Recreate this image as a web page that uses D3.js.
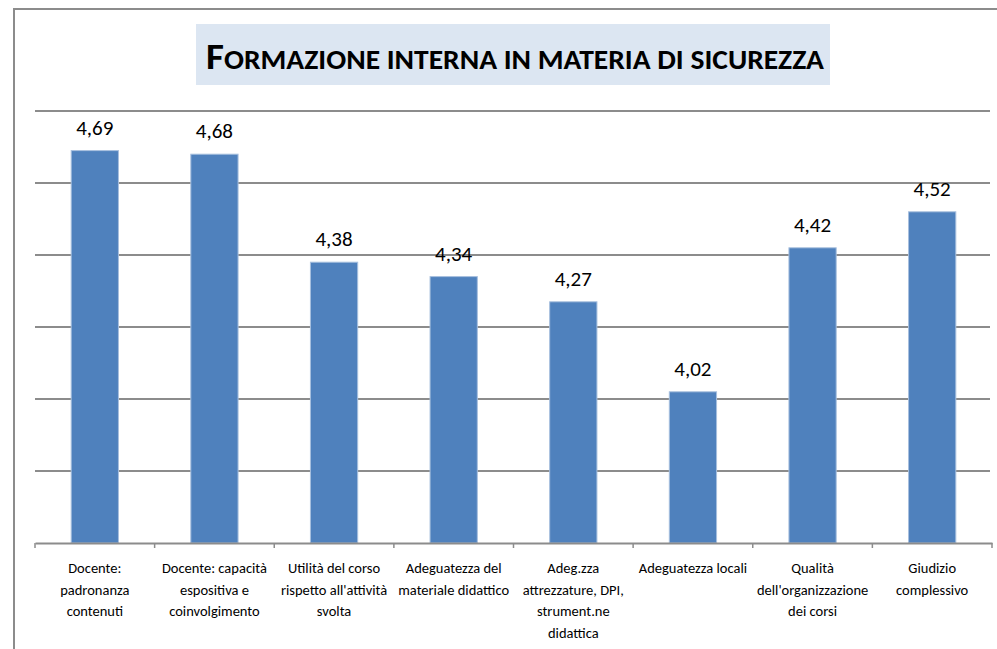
<!DOCTYPE html>
<html>
<head>
<meta charset="utf-8">
<script src="https://cdn.jsdelivr.net/npm/d3@7"></script>
<style>
	body { margin: 0; background: #fff; }
	svg { display: block; }
</style>
</head>
<body>
<div id="graph"></div>
<script>
const titleWords = ["Formazione", "interna", "in", "materia", "di", "sicurezza"];
const categories = [
	["Docente:", "padronanza", "contenuti"],
	["Docente: capacità", "espositiva e", "coinvolgimento"],
	["Utilità del corso", "rispetto all'attività", "svolta"],
	["Adeguatezza del", "materiale didattico"],
	["Adeg.zza", "attrezzature, DPI,", "strument.ne", "didattica"],
	["Adeguatezza locali"],
	["Qualità", "dell'organizzazione", "dei corsi"],
	["Giudizio", "complessivo"],
];
const values = [4.69, 4.68, 4.38, 4.34, 4.27, 4.02, 4.42, 4.52];
const yTicks = [3.6, 3.8, 4.0, 4.2, 4.4, 4.6, 4.8];

const width = 997;
const height = 649;
const marginLeft = 35;
const marginRight = 5;
const plotTop = 111;
const plotBottom = 543;
const font = "Calibri, Carlito, 'Liberation Sans Narrow', 'Open Sans', sans-serif";

const svg = d3
	.select("#graph")
	.append("svg")
	.attr("width", width)
	.attr("height", height)
	.attr("viewBox", [0, 0, width, height]);

// outer frame (top and left only visible)
svg
	.append("path")
	.attr("d", `M14,${height} V9 H${width}`)
	.attr("fill", "none")
	.attr("stroke", "#8c8c8c")
	.attr("stroke-width", 2);

// title box
svg
	.append("rect")
	.attr("x", 196)
	.attr("y", 24)
	.attr("width", 634)
	.attr("height", 61)
	.attr("fill", "#dce6f2");

const title = svg
	.append("text")
	.attr("x", 206)
	.attr("y", 69)
	.attr("font-family", font)
	.attr("font-weight", "bold")
	.attr("fill", "#000")
	.attr("textLength", 618)
	.attr("lengthAdjust", "spacingAndGlyphs");

titleWords.forEach((w, i) => {
	const up = w.toUpperCase();
	title
		.append("tspan")
		.attr("font-size", i == 0 ? 37 : 28)
		.text((i ? " " : "") + (i == 0 ? up[0] : up));
	if (i == 0) title.append("tspan").attr("font-size", 28).text(up.slice(1));
});

const xScale = d3
	.scaleBand(d3.range(categories.length), [marginLeft, width - marginRight])
	.padding(0);
const yScale = d3.scaleLinear([3.6, 4.8], [plotBottom, plotTop]);

// gridlines
svg
	.append("g")
	.attr("stroke", "#8c8c8c")
	.attr("stroke-width", 2)
	.selectAll("line")
	.data(yTicks.slice(1))
	.join("line")
	.attr("x1", marginLeft)
	.attr("x2", width - marginRight - 2)
	.attr("y1", (d) => yScale(d))
	.attr("y2", (d) => yScale(d));

const barW = xScale.bandwidth() * 0.395;

svg
	.append("g")
	.attr("fill", "#4f81bd")
	.attr("stroke", "#a7bfde")
	.attr("stroke-width", 1)
	.selectAll("rect")
	.data(values)
	.join("rect")
	.attr("x", (d, i) => xScale(i) + (xScale.bandwidth() - barW) / 2)
	.attr("y", (d) => yScale(d))
	.attr("width", barW)
	.attr("height", (d) => yScale(3.6) - yScale(d));

// value labels
svg
	.append("g")
	.attr("font-family", font)
	.attr("font-size", 21)
	.attr("text-anchor", "middle")
	.attr("fill", "#000")
	.selectAll("text")
	.data(values)
	.join("text")
	.attr("x", (d, i) => xScale(i) + xScale.bandwidth() / 2)
	.attr("y", (d) => yScale(d) - 16)
	.text((d) => d3.format(".2f")(d).replace(".", ","));

// x axis
const xAxis = d3.axisBottom(xScale).tickSize(0).tickFormat("");
svg
	.append("g")
	.attr("transform", `translate(0,${plotBottom})`)
	.call(xAxis)
	.call((g) => g.select(".domain").attr("stroke", "#8c8c8c").attr("stroke-width", 2))
	.call((g) =>
		g
			.selectAll(".tick-mark")
			.data(d3.range(categories.length + 1))
			.join("line")
			.attr("class", "tick-mark")
			.attr("x1", (i) => (i < categories.length ? xScale(i) : xScale.range()[1]))
			.attr("x2", (i) => (i < categories.length ? xScale(i) : xScale.range()[1]))
			.attr("y1", 0)
			.attr("y2", 5)
			.attr("stroke", "#8c8c8c")
			.attr("stroke-width", 1.5)
	);

// category labels
svg
	.append("g")
	.attr("font-family", font)
	.attr("font-size", 14.5)
	.attr("text-anchor", "middle")
	.attr("fill", "#000")
	.selectAll("text")
	.data(categories)
	.join("text")
	.attr("x", (d, i) => xScale(i) + xScale.bandwidth() / 2)
	.attr("y", 573)
	.selectAll("tspan")
	.data((d) => d)
	.join("tspan")
	.attr("x", function () {
		return this.parentNode.getAttribute("x");
	})
	.attr("dy", (d, i) => (i ? 21.6 : 0))
	.text((d) => d);
</script>
</body>
</html>
